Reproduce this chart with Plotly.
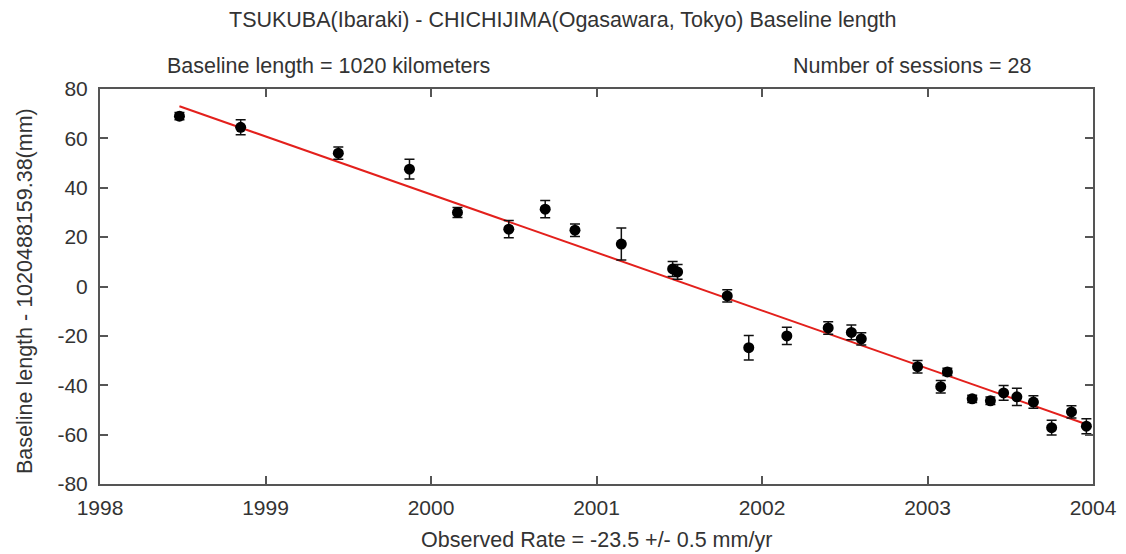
import plotly.graph_objects as go

# Data (epoch in decimal years, baseline length residual in mm, 1-sigma error in mm)
epochs = [1998.48, 1998.85, 1999.44, 1999.87, 2000.16, 2000.47, 2000.69, 2000.87,
          2001.15, 2001.46, 2001.49, 2001.79, 2001.92, 2002.15, 2002.40, 2002.54,
          2002.60, 2002.94, 2003.08, 2003.12, 2003.27, 2003.38, 2003.46, 2003.54,
          2003.64, 2003.75, 2003.87, 2003.96]
lengths = [69.0, 64.5, 54.0, 47.5, 30.0, 23.2, 31.3, 22.8,
           17.2, 7.1, 5.9, -3.8, -24.8, -20.0, -16.8, -18.6,
           -21.2, -32.5, -40.6, -34.6, -45.5, -46.3, -43.1, -44.7,
           -46.8, -57.2, -50.8, -56.6]
errors = [1.5, 3.0, 2.5, 4.0, 2.0, 3.5, 3.5, 2.5,
          6.5, 3.0, 3.0, 2.5, 5.0, 3.5, 2.5, 3.0,
          2.5, 2.5, 2.5, 1.5, 1.5, 1.5, 3.0, 3.5,
          2.5, 3.0, 2.5, 3.0]

rate = -23.5          # mm/yr
rate_ref_epoch = 1998.48
rate_ref_value = 73.0  # mm at reference epoch

x_ticks = [1998, 1999, 2000, 2001, 2002, 2003, 2004]
y_ticks = [-80, -60, -40, -20, 0, 20, 40, 60, 80]

title = "TSUKUBA(Ibaraki) - CHICHIJIMA(Ogasawara, Tokyo) Baseline length"
left_note = "Baseline length = 1020 kilometers"
right_note = "Number of sessions = 28"
x_title = "Observed Rate = -23.5 +/- 0.5 mm/yr"
y_title = "Baseline length - 1020488159.38(mm)"

fit_x = [epochs[0], epochs[-1]]
fit_y = [rate_ref_value + rate * (t - rate_ref_epoch) for t in fit_x]

FONT = "Liberation Sans"
TXT = "#333333"
AX = "#555555"

# body margin is removed by a post script, so the figure fills the window
W, H = 1126, 554
L, T = 100, 89
R = W - 1093
B = H - 484
PW, PH = W - L - R, H - T - B


def px(sx):
    return (sx - L) / PW


def py(sy):
    return (H - B - sy) / PH


fig = go.Figure()
fig.add_trace(go.Scatter(
    x=fit_x, y=fit_y, mode="lines",
    line=dict(color="#e3201c", width=2), hoverinfo="skip", showlegend=False))
fig.add_trace(go.Scatter(
    x=epochs, y=lengths, mode="markers",
    marker=dict(color="black", size=11, symbol="circle"),
    error_y=dict(type="data", array=errors, visible=True, color="#111111",
                 thickness=1.5, width=5),
    showlegend=False))

axis_common = dict(showline=True, linecolor=AX, linewidth=2, mirror="ticks",
                   ticks="inside", ticklen=8, tickwidth=1.5, tickcolor=AX,
                   showgrid=False, zeroline=False, automargin=False,
                   tickfont=dict(family=FONT, size=21, color=TXT))

fig.update_layout(
    width=W, height=H,
    margin=dict(l=L, r=R, t=T, b=B, autoexpand=False),
    paper_bgcolor="white", plot_bgcolor="white",
    font=dict(family=FONT, size=21, color=TXT),
    xaxis=dict(range=[1998, 2004], tickvals=x_ticks,
               ticktext=[str(v) for v in x_ticks], ticklabelstandoff=4,
               **axis_common),
    yaxis=dict(range=[-80, 80], tickvals=y_ticks,
               ticktext=[str(v) for v in y_ticks], ticklabelstandoff=6,
               **axis_common),
    annotations=[
        dict(text=title, x=px(563), y=py(20)),
        dict(text=left_note, x=px(328), y=py(66)),
        dict(text=right_note, x=px(912), y=py(66)),
        dict(text=x_title, x=px(596), y=py(540)),
        dict(text=y_title, x=px(25), y=py(291), textangle=-90),
    ],
)
fig.update_annotations(xref="paper", yref="paper", showarrow=False,
                       xanchor="center", yanchor="middle",
                       font=dict(family=FONT, size=21.5, color=TXT))

fig.write_html(
    "out.html",
    config={"displayModeBar": False},
    post_script="document.body.style.margin='0px';document.body.style.overflow='hidden';",
)
